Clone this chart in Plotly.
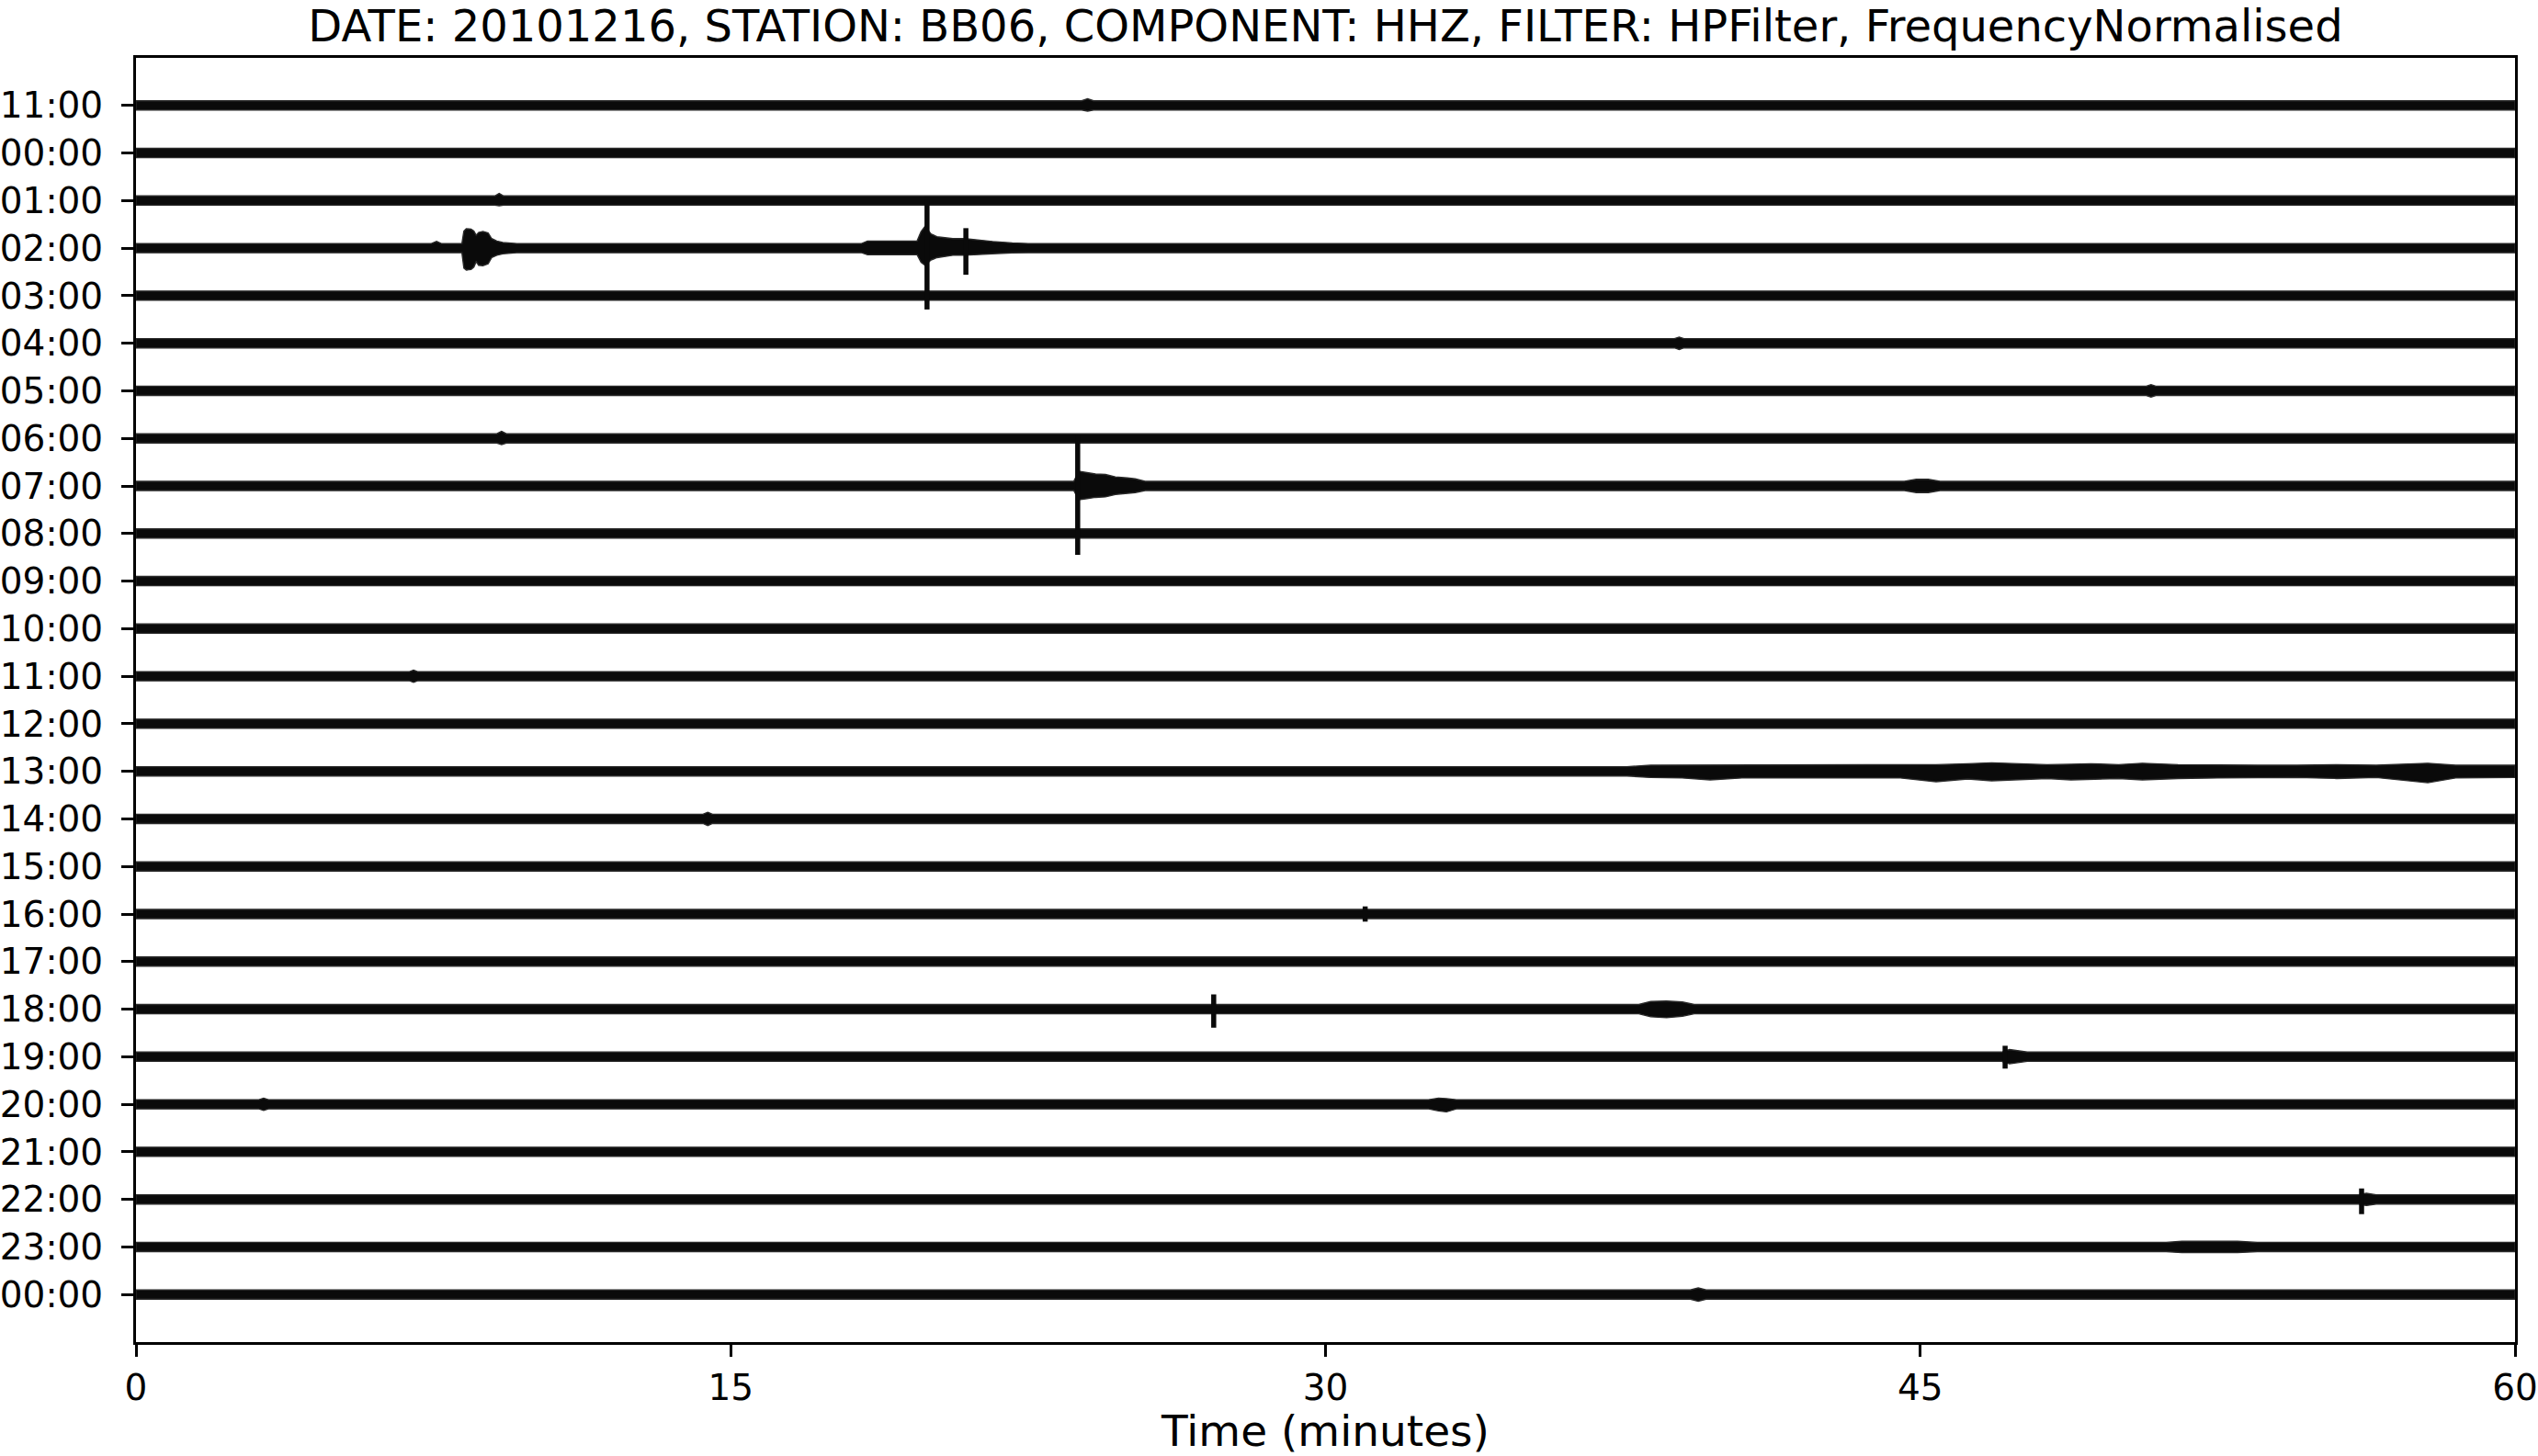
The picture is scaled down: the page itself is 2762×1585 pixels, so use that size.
import plotly.graph_objects as go

# ---------------- data ----------------
title_text = "DATE: 20101216, STATION: BB06, COMPONENT: HHZ, FILTER: HPFilter, FrequencyNormalised"
row_labels = ["11:00", "00:00", "01:00", "02:00", "03:00", "04:00", "05:00", "06:00",
              "07:00", "08:00", "09:00", "10:00", "11:00", "12:00", "13:00", "14:00",
              "15:00", "16:00", "17:00", "18:00", "19:00", "20:00", "21:00", "22:00",
              "23:00", "00:00"]
x_ticks = [0, 15, 30, 45, 60]
t_start, t_end = 0, 60
base_half = 0.097          # half width of the background-noise band (row units)

# envelopes (coda / noise bursts): row index, times (min), upper and lower amplitude (row units)
env_row = [0, 2, 3, 3, 5, 6, 7, 8, 8, 12, 14, 15, 19, 20, 21, 21, 23, 24, 25]
env_t = [
    [23.85, 24.0, 24.15],
    [9.05, 9.16, 9.27],
    [7.45, 7.58, 7.7, 8.22, 8.27, 8.33, 8.45, 8.52, 8.58, 8.64, 8.75, 8.88, 8.97, 9.1, 9.25, 9.6],
    [18.3, 18.45, 19.7, 19.8, 19.9, 20.05, 20.2, 20.4, 20.6, 20.9, 21.2, 21.6, 22.1, 22.5],
    [38.8, 38.92, 39.04],
    [50.7, 50.82, 50.94],
    [9.1, 9.22, 9.34],
    [23.65, 23.78, 23.95, 24.2, 24.45, 24.7, 25.0, 25.2, 25.45],
    [44.6, 44.9, 45.2, 45.5],
    [6.9, 7.0, 7.1],
    [37.6, 38.2, 39.0, 39.7, 40.5, 41.5, 42.5, 43.5, 44.5, 45.4, 46.2, 46.8, 47.5, 48.2,
     48.8, 49.3, 50.0, 50.6, 51.5, 52.5, 53.5, 54.5, 55.5, 56.5, 57.8, 58.5, 60.0],
    [14.3, 14.42, 14.54],
    [37.9, 38.2, 38.6, 39.0, 39.3],
    [47.05, 47.25, 47.45, 47.7],
    [3.1, 3.22, 3.34],
    [32.6, 32.85, 33.05, 33.3],
    [56.05, 56.25, 56.5],
    [51.2, 51.6, 52.4, 53.0, 53.5],
    [39.2, 39.4, 39.6],
]
env_up = [
    [0.09, 0.14, 0.09],
    [0.09, 0.15, 0.09],
    [0.09, 0.14, 0.09, 0.09, 0.36, 0.41, 0.40, 0.36, 0.27, 0.33, 0.35, 0.32, 0.20, 0.15, 0.12, 0.09],
    [0.09, 0.15, 0.15, 0.35, 0.46, 0.30, 0.24, 0.22, 0.20, 0.20, 0.17, 0.14, 0.11, 0.09],
    [0.09, 0.13, 0.09],
    [0.09, 0.13, 0.09],
    [0.09, 0.15, 0.09],
    [0.09, 0.31, 0.28, 0.25, 0.24, 0.19, 0.17, 0.15, 0.09],
    [0.09, 0.14, 0.14, 0.09],
    [0.09, 0.13, 0.09],
    [0.09, 0.13, 0.13, 0.14, 0.13, 0.14, 0.14, 0.13, 0.14, 0.14, 0.16, 0.18, 0.16, 0.14,
     0.15, 0.16, 0.14, 0.17, 0.14, 0.13, 0.13, 0.13, 0.14, 0.13, 0.17, 0.13, 0.13],
    [0.09, 0.14, 0.09],
    [0.09, 0.16, 0.17, 0.15, 0.09],
    [0.09, 0.15, 0.13, 0.09],
    [0.09, 0.13, 0.09],
    [0.09, 0.13, 0.12, 0.09],
    [0.09, 0.13, 0.09],
    [0.09, 0.12, 0.12, 0.12, 0.09],
    [0.09, 0.14, 0.09],
]
env_dn = [
    [0.09, 0.12, 0.09],
    [0.09, 0.11, 0.09],
    [0.09, 0.11, 0.09, 0.09, 0.42, 0.46, 0.45, 0.40, 0.28, 0.36, 0.37, 0.33, 0.20, 0.15, 0.12, 0.09],
    [0.09, 0.14, 0.14, 0.30, 0.36, 0.25, 0.20, 0.17, 0.15, 0.15, 0.14, 0.12, 0.10, 0.09],
    [0.09, 0.13, 0.09],
    [0.09, 0.13, 0.09],
    [0.09, 0.13, 0.09],
    [0.09, 0.29, 0.27, 0.24, 0.23, 0.18, 0.16, 0.14, 0.09],
    [0.09, 0.14, 0.14, 0.09],
    [0.09, 0.13, 0.09],
    [0.09, 0.13, 0.14, 0.18, 0.14, 0.14, 0.15, 0.14, 0.14, 0.22, 0.16, 0.20, 0.17, 0.15,
     0.18, 0.16, 0.15, 0.18, 0.15, 0.14, 0.13, 0.13, 0.15, 0.13, 0.24, 0.14, 0.13],
    [0.09, 0.14, 0.09],
    [0.09, 0.16, 0.18, 0.15, 0.09],
    [0.09, 0.15, 0.13, 0.09],
    [0.09, 0.13, 0.09],
    [0.09, 0.14, 0.16, 0.09],
    [0.09, 0.13, 0.09],
    [0.09, 0.12, 0.12, 0.12, 0.09],
    [0.09, 0.14, 0.09],
]

# impulsive spikes: row index, time (min), upward and downward amplitude (row units)
spike_row = [3, 3, 8, 17, 19, 20, 23]
spike_t = [19.95, 20.93, 23.75, 31.0, 27.18, 47.14, 56.13]
spike_up = [1.02, 0.42, 1.08, 0.16, 0.31, 0.23, 0.23]
spike_dn = [1.29, 0.56, 1.45, 0.16, 0.39, 0.25, 0.31]

# ---------------- figure ----------------
fig = go.Figure()
ink = "#0a0a0a"

for r in range(len(row_labels)):
    blobs = sorted([i for i, rr in enumerate(env_row) if rr == r], key=lambda i: env_t[i][0])
    xs_up, ys_up = [t_start], [r - base_half]
    for i in blobs:
        xs_up += env_t[i]
        ys_up += [r - max(a, base_half) for a in env_up[i]]
    xs_up.append(t_end)
    ys_up.append(r - base_half)
    xs_dn, ys_dn = [t_end], [r + base_half]
    for i in reversed(blobs):
        xs_dn += list(reversed(env_t[i]))
        ys_dn += [r + max(a, base_half) for a in reversed(env_dn[i])]
    xs_dn.append(t_start)
    ys_dn.append(r + base_half)
    fig.add_trace(go.Scatter(
        x=xs_up + xs_dn + [t_start], y=ys_up + ys_dn + [r - base_half],
        mode="lines", fill="toself", fillcolor=ink,
        line=dict(color="#2a2a2a", width=1.4), hoverinfo="skip"))

for r, t, u, d in zip(spike_row, spike_t, spike_up, spike_dn):
    fig.add_trace(go.Scatter(
        x=[t, t], y=[r - u, r + d], mode="lines",
        line=dict(color=ink, width=5.5), hoverinfo="skip"))

axis_common = dict(showline=True, mirror=True, linecolor="black", linewidth=3,
                   ticks="outside", ticklen=13, tickwidth=3, tickcolor="black",
                   showgrid=False, zeroline=False, automargin=False,
                   tickfont=dict(family="DejaVu Sans", size=39, color="black"))

fig.update_layout(
    width=2762, height=1585,
    margin=dict(l=148, r=25, t=63, b=124),
    plot_bgcolor="white", paper_bgcolor="white",
    showlegend=False,
    font=dict(family="DejaVu Sans", size=39, color="black"),
    title=dict(text=title_text, x=0.5, xref="paper", xanchor="center",
               y=1 - 28.5 / 1585, yref="container", yanchor="middle",
               font=dict(size=48, family="DejaVu Sans", color="black")),
    xaxis=dict(range=[t_start, t_end], tickvals=x_ticks,
               title=dict(text="Time (minutes)", standoff=12), **axis_common),
    yaxis=dict(range=[len(row_labels), -1], tickvals=list(range(len(row_labels))),
               ticktext=row_labels, ticklabelstandoff=12, **axis_common),
)

fig.write_html("out.html", config={"displayModeBar": False},
               post_script="document.body.style.margin='0px';document.body.style.overflow='hidden';")
